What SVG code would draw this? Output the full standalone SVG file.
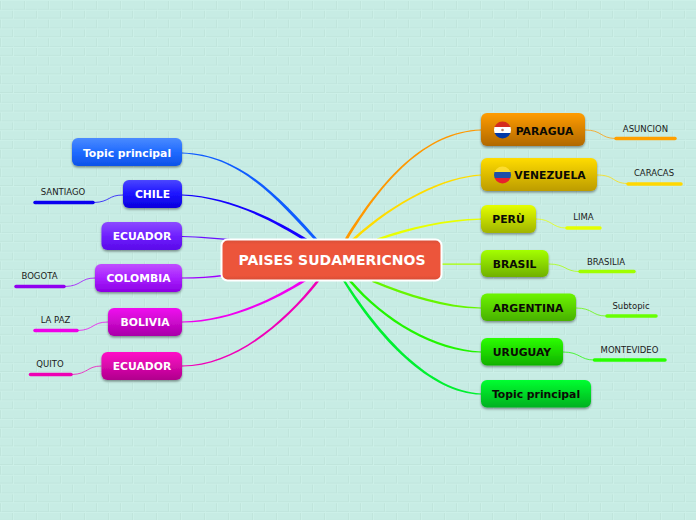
<svg xmlns="http://www.w3.org/2000/svg" width="696" height="520" viewBox="0 0 696 520">
<style>
.n{filter:url(#sh)}
.t{font-family:"DejaVu Sans",sans-serif;font-weight:700;font-size:10.800px;text-anchor:middle;dominant-baseline:central}
.w{fill:#fff}.k{fill:#0b0b05}
.s{font-family:"DejaVu Sans",sans-serif;font-size:8.500px;fill:#1a1a1a;text-anchor:middle}
.f{fill:none;stroke-width:1;opacity:.75}
.u{fill:none;stroke-width:3.500;stroke-linecap:round}
</style>
<defs>
<pattern id="br" width="48" height="18.600" patternUnits="userSpaceOnUse">
<rect width="48" height="18.600" fill="#c7ece4"/>
<path d="M0 9.500H48M0 18.100H48M0.500 0V9.300M24.500 0V9.300M12.500 9.300V18.600M36.500 9.300V18.600" stroke="#c0e5dc" stroke-width="1" fill="none"/>
<path d="M0 10.300H48M0 .500H48M1.500 0V9.300M25.500 0V9.300M13.500 9.300V18.600M37.500 9.300V18.600" stroke="#ccf0e8" stroke-width="1" fill="none"/>
</pattern>
<filter id="sh" x="-10%" y="-20%" width="120%" height="150%"><feDropShadow dx="0" dy="1.500" stdDeviation="1" flood-color="#000" flood-opacity=".4"/></filter>
<linearGradient id="g1" x1="0" y1="0" x2="0" y2="1"><stop offset="0" stop-color="#4b8bff"/><stop offset=".5" stop-color="#1f6bff"/><stop offset="1" stop-color="#0d52e8"/></linearGradient>
<linearGradient id="g2" x1="0" y1="0" x2="0" y2="1"><stop offset="0" stop-color="#4a46ff"/><stop offset=".5" stop-color="#1c14ff"/><stop offset="1" stop-color="#0a00dc"/></linearGradient>
<linearGradient id="g3" x1="0" y1="0" x2="0" y2="1"><stop offset="0" stop-color="#8c4bff"/><stop offset=".5" stop-color="#6f20ff"/><stop offset="1" stop-color="#5a08e8"/></linearGradient>
<linearGradient id="g4" x1="0" y1="0" x2="0" y2="1"><stop offset="0" stop-color="#c050ff"/><stop offset=".5" stop-color="#a820ff"/><stop offset="1" stop-color="#8c00e4"/></linearGradient>
<linearGradient id="g5" x1="0" y1="0" x2="0" y2="1"><stop offset="0" stop-color="#f010f0"/><stop offset="1" stop-color="#a800a8"/></linearGradient>
<linearGradient id="g6" x1="0" y1="0" x2="0" y2="1"><stop offset="0" stop-color="#ff10c8"/><stop offset="1" stop-color="#b0008c"/></linearGradient>
<linearGradient id="g7" x1="0" y1="0" x2="0" y2="1"><stop offset="0" stop-color="#ff9c00"/><stop offset="1" stop-color="#b06800"/></linearGradient>
<linearGradient id="g8" x1="0" y1="0" x2="0" y2="1"><stop offset="0" stop-color="#ffdc00"/><stop offset="1" stop-color="#bc9c00"/></linearGradient>
<linearGradient id="g9" x1="0" y1="0" x2="0" y2="1"><stop offset="0" stop-color="#e4ff00"/><stop offset="1" stop-color="#a0b400"/></linearGradient>
<linearGradient id="g10" x1="0" y1="0" x2="0" y2="1"><stop offset="0" stop-color="#a4ff00"/><stop offset="1" stop-color="#70b000"/></linearGradient>
<linearGradient id="g11" x1="0" y1="0" x2="0" y2="1"><stop offset="0" stop-color="#6cf500"/><stop offset="1" stop-color="#48b000"/></linearGradient>
<linearGradient id="g12" x1="0" y1="0" x2="0" y2="1"><stop offset="0" stop-color="#2cff00"/><stop offset="1" stop-color="#10b000"/></linearGradient>
<linearGradient id="g13" x1="0" y1="0" x2="0" y2="1"><stop offset="0" stop-color="#00ff30"/><stop offset="1" stop-color="#00b020"/></linearGradient>
<linearGradient id="gc" x1="0" y1="0" x2="0" y2="1"><stop offset="0" stop-color="#d64e38"/><stop offset=".12" stop-color="#ec553b"/><stop offset=".88" stop-color="#ec553b"/><stop offset="1" stop-color="#d44c35"/></linearGradient>
<clipPath id="cp1"><circle cx="502.500" cy="130" r="8.500"/></clipPath>
<clipPath id="cp2"><circle cx="502.500" cy="175" r="8.500"/></clipPath>
</defs>
<rect width="696" height="520" fill="url(#br)"/>
<g id="connectors">
<path fill="#0f5cff" d="M182 152.400C240 154 278 195 321 243L318.500 244.500C275 197 240 156 182 153.600Z"/>
<path fill="#1400ff" d="M182 194.400C230 196 275 219 309 240L306.500 242C273 221 230 198 182 195.600Z"/>
<path fill="#6a10ff" d="M182 236C200 236.500 215 237.500 235 239.500L235 241C215 239 200 237.500 182 237Z"/>
<path fill="#a000ff" d="M182 277.500C197 277.500 212 276.500 225 274.500L225 276C212 278 197 278.500 182 278.500Z"/>
<path fill="#f000f0" d="M182 321.400C225 321 270 301 304 279L306 281C271 303 225 323 182 322.600Z"/>
<path fill="#f000b8" d="M182 365.400C235 365 285 321 317 280L319 281.500C286 323 235 367 182 366.600Z"/>
<path fill="#ff9800" d="M481 129.400C425 131 382 179 345 238.500L347.500 240C383 181 425 133 481 130.600Z"/>
<path fill="#ffdc00" d="M481 174.400C445 176 395 200 352 239L354.500 240.500C396 202 445 178 481 175.600Z"/>
<path fill="#e8ff00" d="M481 218.500C445 219 410 227 377 238.500L378 240.500C411 229 445 221 481 219.700Z"/>
<path fill="#a8ff00" d="M481 263.500L442 263.500V264.700H481Z"/>
<path fill="#66f500" d="M481 307.400C445 306 410 295 373 280L372 282C409 297 445 309 481 308.600Z"/>
<path fill="#22f500" d="M481 351.400C435 349 385 320 351 280L349 281.500C384 322 435 352 481 352.600Z"/>
<path fill="#00f030" d="M481 393.400C430 391 380 335 345 280L343 281C377 337 430 394 481 394.600Z"/>
<path class="f" stroke="#1400ff" d="M123 195C108 195 110 202 94 202.500"/>
<path class="f" stroke="#a000ff" d="M95 278C80 278 82 286 65 286.500"/>
<path class="f" stroke="#f000f0" d="M108 322C92 322 94 330 78 330.500"/>
<path class="f" stroke="#f000b8" d="M101.500 366C87 366 88 374 72 374.500"/>
<path class="f" stroke="#ff9800" d="M585 130C602 130 600 138 615 138.500"/>
<path class="f" stroke="#ffdc00" d="M597 175C615 175 612 183 627 183.500"/>
<path class="f" stroke="#e8ff00" d="M536 219C552 219 552 228 566 228"/>
<path class="f" stroke="#a8ff00" d="M548.500 264C566 264 565 271.500 579 271.500"/>
<path class="f" stroke="#66f500" d="M576 308C593 308 592 316 606 316"/>
<path class="f" stroke="#22f500" d="M563 352C580 352 580 360 594 360"/>
<path class="u" stroke="#0a00f0" d="M35 202.500H93"/>
<path class="u" stroke="#9000f0" d="M16 286.500H64"/>
<path class="u" stroke="#ee00e8" d="M35 330.500H77"/>
<path class="u" stroke="#ee00b4" d="M30.500 374.500H71"/>
<path class="u" stroke="#ffa000" d="M616 138.500H675"/>
<path class="u" stroke="#ffd800" d="M628 184H681"/>
<path class="u" stroke="#e4ff00" d="M567 228H600"/>
<path class="u" stroke="#a0ff00" d="M580 271.500H634"/>
<path class="u" stroke="#68ff00" d="M607 316H656"/>
<path class="u" stroke="#28ff00" d="M594.500 360H665"/>
</g>
<g id="sub-labels">
<text class="s" x="63" y="195">SANTIAGO</text>
<text class="s" x="39.500" y="279">BOGOTA</text>
<text class="s" x="55.500" y="323">LA PAZ</text>
<text class="s" x="50" y="367">QUITO</text>
<text class="s" x="645.500" y="132">ASUNCION</text>
<text class="s" x="654" y="176">CARACAS</text>
<text class="s" x="583.500" y="220">LIMA</text>
<text class="s" x="606" y="265">BRASILIA</text>
<text class="s" x="631" y="309">Subtopic</text>
<text class="s" x="629.500" y="353">MONTEVIDEO</text>
</g>
<g id="n-topic-left"><rect class="n" x="72" y="138" width="110" height="28" rx="6" fill="url(#g1)"/><text class="t w" x="127" y="153">Topic principal</text></g>
<g id="n-chile"><rect class="n" x="123" y="180" width="59" height="28" rx="6" fill="url(#g2)"/><text class="t w" x="152.500" y="194.500">CHILE</text></g>
<g id="n-ecuador1"><rect class="n" x="101.500" y="222" width="80.500" height="28" rx="6" fill="url(#g3)"/><text class="t w" x="142" y="236.500">ECUADOR</text></g>
<g id="n-colombia"><rect class="n" x="95" y="264" width="87" height="28" rx="6" fill="url(#g4)"/><text class="t w" x="138.500" y="278.500">COLOMBIA</text></g>
<g id="n-bolivia"><rect class="n" x="108" y="308" width="74" height="28" rx="6" fill="url(#g5)"/><text class="t w" x="145" y="322.500">BOLIVIA</text></g>
<g id="n-ecuador2"><rect class="n" x="101.500" y="352" width="80.500" height="28" rx="6" fill="url(#g6)"/><text class="t w" x="142" y="366.500">ECUADOR</text></g>
<g id="n-center"><rect x="221.500" y="239.500" width="220" height="41" rx="6" fill="url(#gc)" stroke="#fff" stroke-width="2"/><text x="332" y="260" font-family="'DejaVu Sans',sans-serif" font-weight="700" font-size="14px" fill="#fff" text-anchor="middle" dominant-baseline="central">PAISES SUDAMERICNOS</text></g>
<g id="n-paragua"><rect class="n" x="481" y="113" width="104" height="33" rx="6" fill="url(#g7)"/>
<g clip-path="url(#cp1)"><rect x="494" y="121" width="17" height="6" fill="#d52b1e"/><rect x="494" y="127" width="17" height="6" fill="#fff"/><rect x="494" y="133" width="17" height="6" fill="#0038a8"/><circle cx="502.500" cy="130" r="1.300" fill="#b08070"/></g>
<text class="t k" x="544.500" y="131">PARAGUA</text></g>
<g id="n-venezuela"><rect class="n" x="481" y="158" width="116" height="33" rx="6" fill="url(#g8)"/>
<g clip-path="url(#cp2)"><rect x="494" y="166" width="17" height="6" fill="#fcdc30"/><rect x="494" y="172" width="17" height="6" fill="#1f4fa8"/><rect x="494" y="178" width="17" height="6" fill="#e8202c"/></g>
<text class="t k" x="550" y="175">VENEZUELA</text></g>
<g id="n-peru"><rect class="n" x="481" y="205" width="55" height="28" rx="6" fill="url(#g9)"/><text class="t k" x="508.500" y="219.500">PERÙ</text></g>
<g id="n-brasil"><rect class="n" x="481" y="250" width="67.500" height="27" rx="6" fill="url(#g10)"/><text class="t k" x="514.500" y="264">BRASIL</text></g>
<g id="n-argentina"><rect class="n" x="481" y="293.500" width="95" height="27.500" rx="6" fill="url(#g11)"/><text class="t k" x="528" y="308">ARGENTINA</text></g>
<g id="n-uruguay"><rect class="n" x="481" y="338" width="82" height="27.500" rx="6" fill="url(#g12)"/><text class="t k" x="522" y="352">URUGUAY</text></g>
<g id="n-topic-right"><rect class="n" x="481" y="380" width="110" height="27.500" rx="6" fill="url(#g13)"/><text class="t k" x="536" y="394">Topic principal</text></g>
</svg>
